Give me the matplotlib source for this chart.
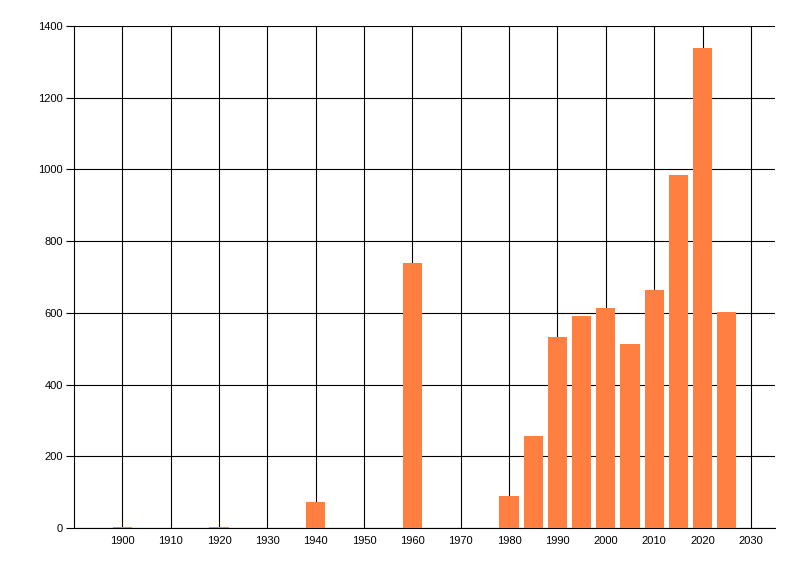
import matplotlib.pyplot as plt

# data
years = [1900, 1920, 1940, 1960, 1980, 1985, 1990, 1995, 2000, 2005, 2010, 2015, 2020, 2025]
counts = [3, 3, 72, 739, 89, 256, 533, 591, 613, 513, 663, 984, 1338, 602]
x_ticks = list(range(1900, 2031, 10))
y_ticks = list(range(0, 1401, 200))

plt.rcParams['font.family'] = ['Liberation Sans', 'DejaVu Sans']

fig = plt.figure(figsize=(8, 5.76), dpi=100)
ax = fig.add_axes([0.0925, 0.0833, 0.8763, 0.8716])

ax.bar(years, counts, width=4, color='#FF7F40', zorder=3)

ax.set_xlim(1890, 2035)
ax.set_ylim(0, 1400)
ax.set_xticks(x_ticks)
ax.set_yticks(y_ticks)
ax.tick_params(axis='x', length=0, pad=6, labelsize=8)
ax.tick_params(axis='y', length=6, width=0.8, labelsize=8, pad=2)

ax.grid(True, color='black', linewidth=0.8, zorder=0)
ax.set_axisbelow(True)

for side in ['top', 'right']:
    ax.spines[side].set_visible(False)
for side in ['left', 'bottom']:
    ax.spines[side].set_linewidth(0.8)

plt.savefig('out.png', dpi=100)
